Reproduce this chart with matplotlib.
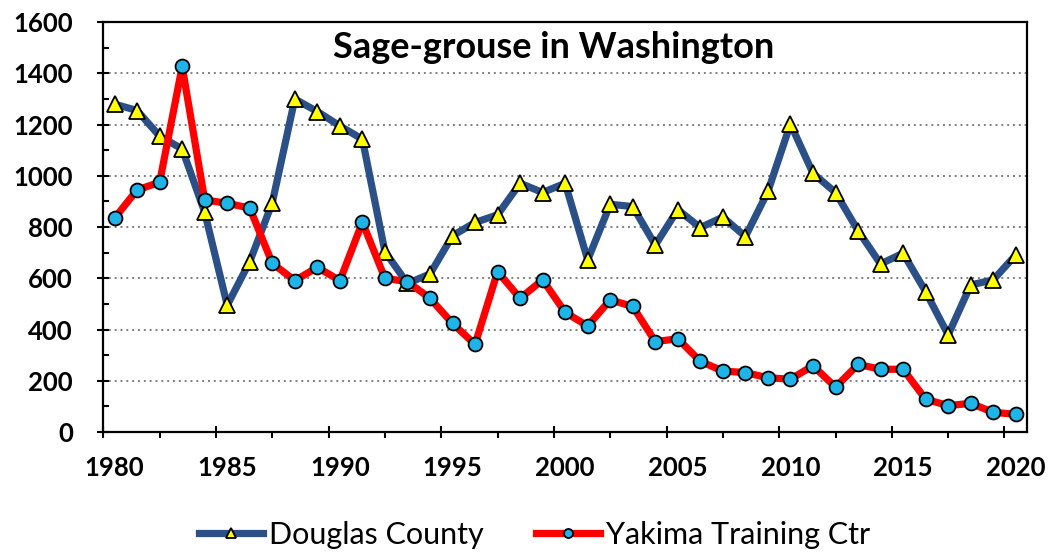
import matplotlib
matplotlib.use("Agg")
import matplotlib.pyplot as plt
from matplotlib.ticker import MultipleLocator, FixedLocator

years = list(range(1980, 2021))
douglas = [1280, 1255, 1155, 1105, 858, 495, 665, 895, 1300, 1251, 1195, 1143,
           704, 580, 617, 766, 818, 848, 971, 935, 971, 672, 889, 880, 730, 868,
           798, 839, 763, 939, 1203, 1010, 935, 786, 656, 698, 548, 379, 574, 594, 691]
yakima = [835, 945, 975, 1427, 906, 893, 874, 659, 591, 643, 591, 819,
          600, 587, 522, 424, 342, 626, 522, 594, 467, 414, 516, 490, 353, 364,
          276, 238, 232, 212, 206, 259, 175, 264, 245, 245, 128, 103, 112, 77, 69]
label_years = [1980, 1985, 1990, 1995, 2000, 2005, 2010, 2015, 2020]
y_ticks = [0, 200, 400, 600, 800, 1000, 1200, 1400, 1600]
title = "Sage-grouse in Washington"
names = ["Douglas County", "Yakima Training Ctr"]

plt.rcParams['font.family'] = ['Lato', 'DejaVu Sans']

fig = plt.figure(figsize=(10.5, 5.54), dpi=100)
ax = fig.add_axes([0.0984, 0.2202, 0.8797, 0.7398])

ax.plot(years, douglas, color='#2B5088', lw=5.2, marker='^', ms=12,
        mfc='#FFFF00', mec='black', mew=1.3, label=names[0], zorder=3,
        solid_joinstyle='round')
ax.plot(years, yakima, color='#FF0000', lw=5.2, marker='o', ms=10,
        mfc='#1FB4E8', mec='black', mew=1.3, label=names[1], zorder=4,
        solid_joinstyle='round')

ax.set_xlim(1979.5, 2020.5)
ax.set_ylim(0, 1600)

# y axis ticks
ax.set_yticks(y_ticks)
ax.yaxis.set_minor_locator(MultipleLocator(100))
ax.tick_params(axis='y', which='major', direction='inout', length=8, width=1.5,
               labelsize=18.5, pad=18)
ax.tick_params(axis='y', which='minor', direction='in', length=4.5, width=1.5)
for lbl in ax.get_yticklabels():
    lbl.set_fontweight('bold')

# x labels at category centers, no marks
ax.set_xticks(label_years)
ax.set_xticklabels([str(y) for y in label_years], fontweight='bold')
ax.tick_params(axis='x', which='major', length=0, labelsize=18.5, pad=17)
# crossing tick marks between categories
ax.xaxis.set_minor_locator(FixedLocator([1979.5 + 5 * k for k in range(9)]))
ax.tick_params(axis='x', which='minor', direction='inout', length=8, width=1.5)
sec = ax.secondary_xaxis('bottom')
sec.set_xticks([1982 + 5 * k for k in range(8)])
sec.tick_params(axis='x', direction='out', length=4.5, width=1.5, labelbottom=False)
sec.spines['bottom'].set_visible(False)

for s in ax.spines.values():
    s.set_linewidth(1.6)

for yv in y_ticks[1:-1]:
    ax.axhline(yv, color='#808080', lw=1.4, ls=(0, (1, 2)), zorder=1)

ax.text(0.487, 0.912, title, transform=ax.transAxes, ha='center', va='baseline',
        fontsize=26, fontweight='bold')

leg = fig.legend(loc='center', bbox_to_anchor=(0.509, 0.034), ncol=2, frameon=False,
                 fontsize=22, handlelength=2.1, handletextpad=0.2, columnspacing=1.7,
                 markerscale=0.65)

fig.savefig("out.png", dpi=100, facecolor='white')
